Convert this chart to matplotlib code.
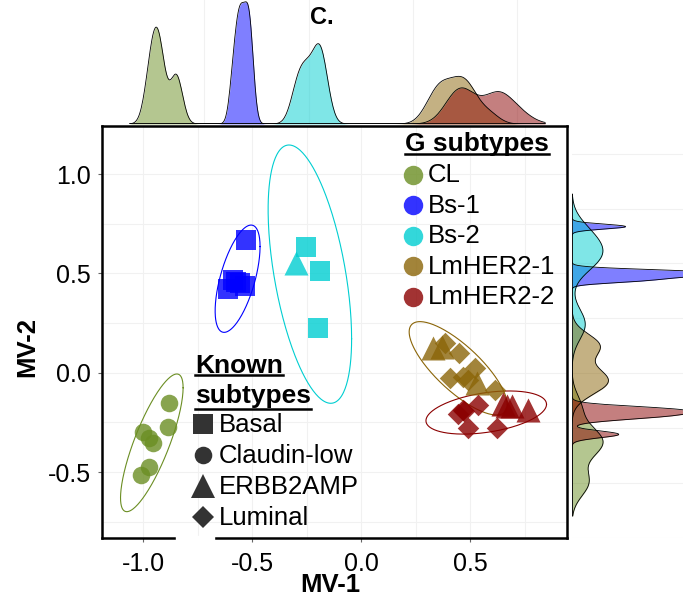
import numpy as np
import matplotlib
matplotlib.use("Agg")
import matplotlib.pyplot as plt
from matplotlib.lines import Line2D
from matplotlib.patches import Rectangle

plt.rcParams['font.family'] = ['Liberation Sans', 'DejaVu Sans']

W, H = 683, 606

# G subtypes (colour), legend order
g_names = ['CL', 'Bs-1', 'Bs-2', 'LmHER2-1', 'LmHER2-2']
g_colors = ['#6b8e23', '#0000ff', '#00ced1', '#8b6508', '#8b0000']

# known subtypes (shape)
known_names = ['Basal', 'Claudin-low', 'ERBB2AMP', 'Luminal']
known_markers = ['s', 'o', '^', 'D']
known_sizes = [190, 160, 300, 120]

# samples: MV-1, MV-2, known subtype index
cl_x = [-0.882, -0.885, -1.000, -0.972, -0.957, -0.972, -1.012]
cl_y = [-0.154, -0.272, -0.297, -0.330, -0.352, -0.476, -0.515]
cl_k = [1, 1, 1, 1, 1, 1, 1]

bs1_x = [-0.530, -0.575, -0.610, -0.534, -0.587, -0.556]
bs1_y = [0.668, 0.458, 0.421, 0.438, 0.467, 0.450]
bs1_k = [0, 0, 0, 0, 0, 0]

bs2_x = [-0.254, -0.189, -0.197, -0.300]
bs2_y = [0.634, 0.513, 0.223, 0.554]
bs2_k = [0, 0, 0, 2]

lm1_x = [0.330, 0.369, 0.529, 0.384, 0.450, 0.522, 0.407, 0.468, 0.491, 0.613]
lm1_y = [0.123, 0.131, -0.053, 0.148, 0.098, 0.022, -0.028, -0.020, -0.037, -0.087]
lm1_k = [2, 2, 2, 3, 3, 3, 3, 3, 3, 3]

lm2_x = [0.467, 0.535, 0.489, 0.622, 0.444, 0.472, 0.651, 0.692, 0.765, 0.668]
lm2_y = [-0.188, -0.163, -0.278, -0.278, -0.208, -0.195, -0.158, -0.168, -0.188, -0.170]
lm2_k = [3, 3, 3, 3, 3, 3, 2, 2, 2, 2]

# ellipses: centre, half range in x / y, correlation
ell_cx = [-0.9605, -0.567, -0.2355, 0.445, 0.5735]
ell_cy = [-0.353, 0.473, 0.496, 0.022, -0.2005]
ell_rx = [0.1435, 0.103, 0.1915, 0.225, 0.2765]
ell_ry = [0.3465, 0.270, 0.650, 0.235, 0.1085]
ell_rho = [0.80, 0.60, -0.50, -0.78, 0.38]

groups_x = [cl_x, bs1_x, bs2_x, lm1_x, lm2_x]
groups_y = [cl_y, bs1_y, bs2_y, lm1_y, lm2_y]
groups_k = [cl_k, bs1_k, bs2_k, lm1_k, lm2_k]

xlim = (-1.189, 0.944)
ylim = (-0.832, 1.2416)
# the marginal panels of the original are not quite aligned with the scatter
top_xlim = (-1.240, 0.988)
right_ylim = (-0.730, 1.126)
# range the densities are drawn over
top_range = (-1.106, 0.883)
right_range = (-0.649, 0.815)


def box(l, t, r, b):
    return [l / W, 1 - b / H, (r - l) / W, (b - t) / H]


def kde(vals, grid):
    # gaussian kernel, bw.nrd0 like R / ggplot
    v = np.asarray(vals, float)
    q75, q25 = np.percentile(v, [75, 25])
    lo = min(np.std(v, ddof=1), (q75 - q25) / 1.34)
    bw = 0.9 * lo * len(v) ** -0.2
    z = (grid[:, None] - v[None, :]) / bw
    return np.exp(-0.5 * z ** 2).sum(1) / (len(v) * bw * np.sqrt(2 * np.pi))


fig = plt.figure(figsize=(W / 100, H / 100), dpi=100)
ax = fig.add_axes(box(102, 126, 567, 538))
ax_top = fig.add_axes(box(102, 0, 567, 124))
ax_right = fig.add_axes(box(572, 126, 683, 538))

grid_col = '#f1f1f1'

# main scatter
for gx, gy, gk, col in zip(groups_x, groups_y, groups_k, g_colors):
    gx, gy, gk = np.array(gx), np.array(gy), np.array(gk)
    for k, (m, s) in enumerate(zip(known_markers, known_sizes)):
        sel = gk == k
        if sel.any():
            ax.scatter(gx[sel], gy[sel], marker=m, s=s, color=col, alpha=0.8,
                       linewidths=0, zorder=3)

t = np.linspace(0, 2 * np.pi, 300)
for cx, cy, rx, ry, rho, col in zip(ell_cx, ell_cy, ell_rx, ell_ry, ell_rho, g_colors):
    cov = np.array([[rx * rx, rho * rx * ry], [rho * rx * ry, ry * ry]])
    L = np.linalg.cholesky(cov)
    pts = L @ np.vstack([np.cos(t), np.sin(t)])
    ax.plot(cx + pts[0], cy + pts[1], color=col, lw=0.8, zorder=2)

ax.set_xlim(xlim)
ax.set_ylim(ylim)
ax.set_xticks([-1.0, -0.5, 0.0, 0.5])
ax.set_yticks([-0.5, 0.0, 0.5, 1.0])
ax.set_xticks([-0.75, -0.25, 0.25, 0.75], minor=True)
ax.set_yticks([-0.75, -0.25, 0.25, 0.75], minor=True)
ax.set_xticklabels(['-1.0', '-0.5', '0.0', '0.5'])
ax.set_yticklabels(['-0.5', '0.0', '0.5', '1.0'])
ax.tick_params(which='major', length=3, width=0.8, color='#666666',
               labelsize=18, pad=5)
ax.tick_params(axis='x', which='major', pad=7)
ax.tick_params(which='minor', length=0)
ax.grid(True, which='both', color=grid_col, lw=0.8)
ax.set_axisbelow(True)
for sp in ax.spines.values():
    sp.set_linewidth(1.8)
    sp.set_color('black')

# marginal densities
gx_grid = np.linspace(top_range[0], top_range[1], 512)
gy_grid = np.linspace(right_range[0], right_range[1], 512)
top_d = [kde(v, gx_grid) for v in groups_x]
right_d = [kde(v, gy_grid) for v in groups_y]

for d, col in zip(top_d, g_colors):
    ax_top.fill_between(gx_grid, d, color=col, alpha=0.5, lw=0)
    ax_top.plot(gx_grid, d, color='black', lw=0.6)
ax_top.set_xlim(top_xlim)
ax_top.set_ylim(0, max(d.max() for d in top_d) * 1.015)

for d, col in zip(right_d, g_colors):
    ax_right.fill_betweenx(gy_grid, d, color=col, alpha=0.5, lw=0)
    ax_right.plot(d, gy_grid, color='black', lw=0.6)
ax_right.set_ylim(right_ylim)
# the tallest spikes run off the right edge of the picture
ax_right.set_xlim(0, 0.75 * max(d.max() for d in right_d))

for a in (ax_top, ax_right):
    for sp in a.spines.values():
        sp.set_visible(False)
    a.set_xticks([])
    a.set_yticks([])
ax_top.set_xticks([-0.75, -0.25, 0.25, 0.75])
ax_top.tick_params(length=0, labelbottom=False)
ax_top.grid(True, axis='x', color=grid_col, lw=0.8)
ax_top.set_axisbelow(True)
ax_right.set_yticks([-0.75, -0.5, -0.25, 0.0, 0.25, 0.5, 0.75, 1.0])
ax_right.tick_params(length=0, labelleft=False)
ax_right.grid(True, axis='y', color=grid_col, lw=0.8)
ax_right.set_axisbelow(True)

# axis titles
fig.text(330 / W, 1 - 585 / H, 'MV-1', fontsize=18.5, fontweight='bold',
         ha='center', va='center')
fig.text(27 / W, 1 - 347 / H, 'MV-2', fontsize=18.5, fontweight='bold',
         ha='center', va='center', rotation=90)
fig.text(322 / W, 1 - 18 / H, 'C.', fontsize=17, fontweight='bold',
         ha='center', va='center')

# legend: G subtypes
titles = []
titles.append((fig.text(405 / W, 1 - 151 / H, 'G subtypes', fontsize=19,
                        fontweight='bold', va='baseline'), 154))
for i, (name, col) in enumerate(zip(g_names, g_colors)):
    yc = 175 + 30.4 * i
    fig.add_artist(Line2D([413 / W], [1 - yc / H], marker='o', markersize=14,
                          color=col, alpha=0.8, markeredgewidth=0, lw=0,
                          transform=fig.transFigure))
    fig.text(428 / W, 1 - (yc + 7.5) / H, name, fontsize=18.5, va='baseline')

# legend: known subtypes
titles.append((fig.text(195 / W, 1 - 373 / H, 'Known', fontsize=19,
                        fontweight='bold', va='baseline'), 375))
titles.append((fig.text(195 / W, 1 - 403 / H, 'subtypes', fontsize=19,
                        fontweight='bold', va='baseline'), 409))
for i, (name, m, s) in enumerate(zip(known_names, known_markers, known_sizes)):
    yc = 424 + 31 * i
    fig.add_artist(Line2D([203 / W], [1 - yc / H], marker=m, markersize=np.sqrt(s),
                          color='#333333', markeredgewidth=0, lw=0,
                          transform=fig.transFigure))
    fig.text(219 / W, 1 - (yc + 8.4) / H, name, fontsize=18.5, va='baseline')

fig.canvas.draw()
r = fig.canvas.get_renderer()
for txt, uy in titles:
    bb = txt.get_window_extent(r)
    fig.add_artist(Line2D([bb.x0 / W, bb.x1 / W], [1 - uy / H, 1 - uy / H],
                          color='black', lw=1.8, transform=fig.transFigure))

# legend background cuts the bottom border
fig.add_artist(Rectangle((176 / W, 1 - 541 / H), 38 / W, 5 / H, color='white',
                         transform=fig.transFigure, zorder=10))

fig.savefig('out.png', dpi=100)
